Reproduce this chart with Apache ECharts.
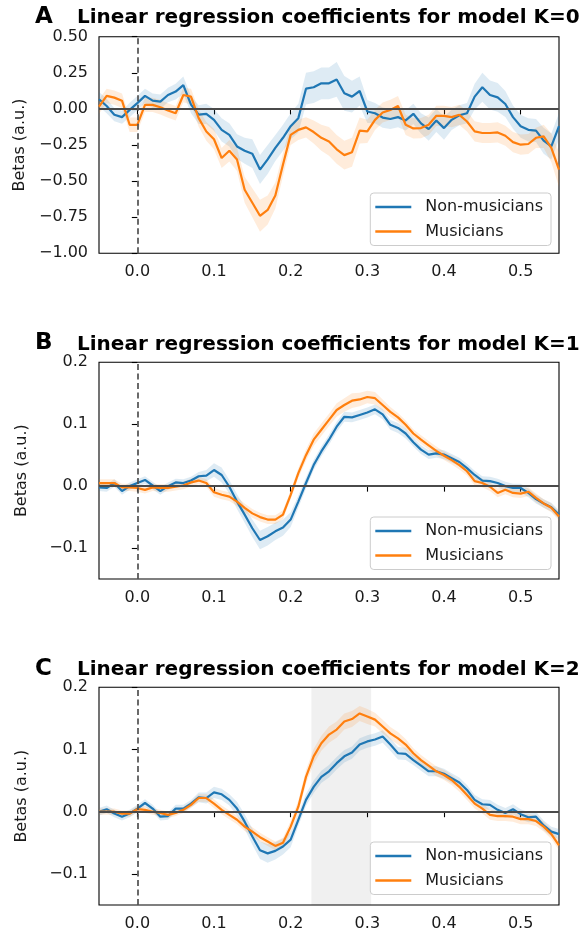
<!DOCTYPE html>
<html><head><meta charset="utf-8">
<script src="https://cdn.jsdelivr.net/npm/echarts@6/dist/echarts.min.js"></script>
<style>html,body{margin:0;padding:0;background:#fff}#c{width:584px;height:934px}</style>
</head><body><div id="c"></div>
<script>
// ---------- data ----------
const times = [-0.05,-0.04,-0.03,-0.02,-0.01,0,0.01,0.02,0.03,0.04,0.05,0.06,0.07,0.08,0.09,0.1,0.11,0.12,0.13,0.14,0.15,0.16,0.17,0.18,0.19,0.2,0.21,0.22,0.23,0.24,0.25,0.26,0.27,0.28,0.29,0.3,0.31,0.32,0.33,0.34,0.35,0.36,0.37,0.38,0.39,0.4,0.41,0.42,0.43,0.44,0.45,0.46,0.47,0.48,0.49,0.5,0.51,0.52,0.53,0.54,0.55];

const nonMusK0 = [0.067,0.02,-0.04,-0.057,-0.007,0.04,0.09,0.057,0.05,0.096,0.12,0.165,0.03,-0.04,-0.035,-0.076,-0.145,-0.18,-0.26,-0.29,-0.31,-0.42,-0.35,-0.27,-0.2,-0.12,-0.064,0.14,0.15,0.177,0.177,0.204,0.108,0.085,0.124,-0.018,-0.03,-0.06,-0.07,-0.057,-0.08,-0.034,-0.1,-0.14,-0.08,-0.133,-0.076,-0.044,-0.03,0.085,0.15,0.096,0.08,0.034,-0.057,-0.12,-0.145,-0.15,-0.22,-0.26,-0.12];
const musK0 = [0.016,0.09,0.078,0.057,-0.11,-0.11,0.028,0.028,0.011,-0.011,-0.03,0.096,0.085,-0.064,-0.156,-0.21,-0.34,-0.29,-0.35,-0.56,-0.65,-0.74,-0.7,-0.6,-0.385,-0.18,-0.145,-0.128,-0.16,-0.2,-0.225,-0.28,-0.32,-0.3,-0.15,-0.156,-0.076,-0.025,-0.007,0.02,-0.11,-0.135,-0.133,-0.11,-0.048,-0.048,-0.057,-0.041,-0.087,-0.156,-0.167,-0.167,-0.163,-0.186,-0.23,-0.248,-0.243,-0.2,-0.19,-0.27,-0.42];
const nonMusK0Sem = [0.05,0.05,0.045,0.045,0.05,0.05,0.05,0.05,0.05,0.05,0.055,0.06,0.06,0.065,0.07,0.075,0.08,0.08,0.085,0.09,0.1,0.1,0.1,0.09,0.09,0.09,0.1,0.11,0.11,0.11,0.11,0.12,0.12,0.11,0.1,0.08,0.07,0.07,0.07,0.07,0.07,0.07,0.07,0.08,0.08,0.08,0.07,0.07,0.07,0.09,0.1,0.1,0.1,0.09,0.08,0.08,0.08,0.08,0.09,0.09,0.09];
const musK0Sem = [0.05,0.05,0.05,0.05,0.05,0.05,0.05,0.05,0.05,0.05,0.05,0.05,0.055,0.06,0.065,0.07,0.07,0.075,0.08,0.09,0.1,0.11,0.1,0.09,0.08,0.07,0.07,0.07,0.08,0.09,0.1,0.1,0.1,0.1,0.09,0.08,0.07,0.07,0.07,0.07,0.07,0.07,0.07,0.07,0.07,0.07,0.07,0.07,0.07,0.07,0.07,0.07,0.07,0.07,0.07,0.07,0.07,0.07,0.08,0.1,0.12];

const nonMusK1 = [-0.002,-0.003,0.005,-0.008,0,0.005,0.01,0.001,-0.008,0,0.006,0.005,0.009,0.016,0.017,0.026,0.018,-0.001,-0.025,-0.046,-0.068,-0.087,-0.081,-0.073,-0.067,-0.054,-0.025,0.005,0.034,0.056,0.075,0.096,0.112,0.111,0.115,0.119,0.124,0.116,0.099,0.094,0.085,0.071,0.059,0.051,0.053,0.051,0.045,0.039,0.029,0.018,0.009,0.008,0.005,0,-0.003,-0.003,-0.011,-0.021,-0.028,-0.034,-0.046];
const musK1 = [0.005,0.005,0.005,-0.002,-0.002,-0.003,-0.006,-0.002,-0.003,-0.003,-0.001,0.001,0.006,0.009,0.005,-0.01,-0.014,-0.017,-0.025,-0.035,-0.044,-0.05,-0.054,-0.054,-0.046,-0.014,0.021,0.05,0.075,0.091,0.107,0.123,0.131,0.138,0.14,0.144,0.142,0.131,0.12,0.111,0.099,0.085,0.075,0.066,0.057,0.049,0.042,0.034,0.024,0.008,0.005,-0.001,-0.011,-0.006,-0.011,-0.012,-0.009,-0.019,-0.028,-0.035,-0.049];
const nonMusK1Sem = [0.006,0.006,0.006,0.006,0.006,0.006,0.006,0.006,0.006,0.006,0.006,0.006,0.006,0.007,0.009,0.011,0.012,0.011,0.012,0.013,0.014,0.015,0.015,0.014,0.013,0.012,0.01,0.009,0.008,0.008,0.008,0.008,0.008,0.008,0.008,0.008,0.008,0.008,0.008,0.008,0.008,0.007,0.007,0.007,0.007,0.007,0.007,0.007,0.007,0.007,0.007,0.007,0.007,0.007,0.007,0.007,0.007,0.007,0.007,0.007,0.007];
const musK1Sem = [0.006,0.006,0.006,0.006,0.006,0.006,0.006,0.006,0.006,0.006,0.006,0.006,0.006,0.006,0.006,0.007,0.007,0.007,0.007,0.007,0.007,0.007,0.007,0.007,0.007,0.007,0.008,0.009,0.01,0.01,0.01,0.011,0.011,0.012,0.011,0.01,0.01,0.009,0.008,0.007,0.007,0.007,0.007,0.007,0.007,0.007,0.007,0.007,0.007,0.007,0.007,0.007,0.007,0.007,0.007,0.007,0.007,0.007,0.007,0.007,0.007];

const nonMusK2 = [0,0.004,-0.003,-0.008,-0.003,0.005,0.014,0.005,-0.008,-0.007,0.005,0.005,0.013,0.023,0.022,0.031,0.028,0.019,0.005,-0.016,-0.04,-0.062,-0.067,-0.063,-0.056,-0.045,-0.013,0.019,0.04,0.056,0.065,0.078,0.089,0.095,0.108,0.113,0.116,0.121,0.108,0.094,0.093,0.083,0.074,0.065,0.065,0.061,0.054,0.047,0.035,0.019,0.012,0.011,0.003,-0.002,0.004,-0.004,-0.009,-0.008,-0.022,-0.032,-0.036];
const musK2 = [0,0,0,-0.003,-0.003,0.004,0.003,0,-0.002,-0.005,-0.002,0.003,0.011,0.022,0.022,0.013,0.003,-0.005,-0.013,-0.024,-0.032,-0.041,-0.048,-0.055,-0.05,-0.024,0.008,0.056,0.089,0.11,0.124,0.132,0.145,0.149,0.158,0.153,0.148,0.137,0.126,0.118,0.108,0.094,0.083,0.074,0.065,0.059,0.051,0.04,0.027,0.013,0.005,-0.005,-0.007,-0.007,-0.008,-0.012,-0.012,-0.015,-0.024,-0.036,-0.054];
const nonMusK2Sem = [0.006,0.006,0.006,0.006,0.006,0.006,0.006,0.006,0.006,0.006,0.006,0.006,0.006,0.008,0.009,0.009,0.009,0.009,0.011,0.012,0.013,0.014,0.015,0.014,0.013,0.012,0.01,0.01,0.01,0.01,0.01,0.01,0.01,0.01,0.01,0.01,0.01,0.01,0.01,0.01,0.01,0.008,0.008,0.008,0.008,0.008,0.008,0.008,0.008,0.008,0.008,0.008,0.008,0.008,0.008,0.008,0.008,0.008,0.008,0.008,0.008];
const musK2Sem = [0.005,0.005,0.005,0.005,0.005,0.005,0.005,0.005,0.005,0.005,0.005,0.005,0.005,0.006,0.006,0.007,0.007,0.007,0.007,0.007,0.007,0.007,0.007,0.007,0.008,0.009,0.01,0.011,0.012,0.012,0.013,0.013,0.013,0.013,0.012,0.012,0.011,0.011,0.01,0.01,0.009,0.008,0.008,0.008,0.008,0.008,0.008,0.008,0.008,0.008,0.008,0.008,0.008,0.008,0.008,0.008,0.008,0.008,0.008,0.008,0.008];

const groupNames = ['Non-musicians', 'Musicians'];
const panelLetters = ['A', 'B', 'C'];
const panelTitles = ['Linear regression coefficients for model K=0', 'Linear regression coefficients for model K=1', 'Linear regression coefficients for model K=2'];
const xTicks = [0, 0.1, 0.2, 0.3, 0.4, 0.5];
const yTicksK0 = [-1, -0.75, -0.5, -0.25, 0, 0.25, 0.5];
const yTicksK12 = [-0.1, 0, 0.1, 0.2];
const sigSpanK2 = [0.227, 0.305];

// ---------- layout / style ----------
const FONT = 'DejaVu Sans';
const BLUE = '#1f77b4', ORANGE = '#ff7f0e';
const BLUE_BAND = 'rgba(31,119,180,0.15)', ORANGE_BAND = 'rgba(255,127,14,0.15)';
const panels = [
  { nm: nonMusK0, mu: musK0, nmSem: nonMusK0Sem, muSem: musK0Sem, yMin: -1, yMax: 0.5, yTicks: yTicksK0, dec: 2,
    top: 36.7, height: 216.6, letterTop: 6, titleTop: 8, legendTop: 193 },
  { nm: nonMusK1, mu: musK1, nmSem: nonMusK1Sem, muSem: musK1Sem, yMin: -0.15, yMax: 0.2, yTicks: yTicksK12, dec: 1,
    top: 362.3, height: 216.7, letterTop: 332, titleTop: 334.5, legendTop: 517 },
  { nm: nonMusK2, mu: musK2, nmSem: nonMusK2Sem, muSem: musK2Sem, yMin: -0.15, yMax: 0.2, yTicks: yTicksK12, dec: 1,
    top: 687.3, height: 217.7, letterTop: 658, titleTop: 660, legendTop: 842, span: sigSpanK2 }
];

const fmt = (v, d) => (v < -1e-9 ? '\u2212' : '') + Math.abs(v).toFixed(d);
const tickStyle = { color: '#000', width: 1.1 };
const labelStyle = { fontSize: 16, fontFamily: FONT, color: '#1a1a1a' };

function bandSeries(gi, mean, sem, color, z) {
  return {
    type: 'custom', xAxisIndex: gi, yAxisIndex: gi, z: z, silent: true, clip: true,
    data: times.map((t, k) => [t, mean[k] - sem[k], mean[k] + sem[k]]),
    encode: { x: 0, y: [1, 2] },
    renderItem: function (params, api) {
      if (params.dataIndex !== 0) return null;
      const upper = times.map((t, k) => api.coord([t, mean[k] + sem[k]]));
      const lower = times.map((t, k) => api.coord([t, mean[k] - sem[k]])).reverse();
      return { type: 'polygon', shape: { points: upper.concat(lower) }, style: { fill: color } };
    }
  };
}

const option = { animation: false, backgroundColor: '#fff', title: [], grid: [], xAxis: [], yAxis: [], legend: [], series: [] };

panels.forEach((p, gi) => {
  option.title.push({ text: panelLetters[gi], left: 35, top: p.letterTop, padding: 0,
    textStyle: { fontSize: 23, fontWeight: 'bold', fontFamily: FONT, color: '#000' } });
  option.title.push({ text: panelTitles[gi], left: 77, top: p.titleTop, padding: 0,
    textStyle: { fontSize: 20, fontWeight: 'bold', fontFamily: FONT, color: '#000' } });
  option.grid.push({ left: 99, right: 25, top: p.top, height: p.height, show: true,
    borderColor: '#000', borderWidth: 1.1, backgroundColor: 'transparent' });
  option.xAxis.push({ type: 'value', gridIndex: gi, min: -0.05, max: 0.55,
    axisLine: { show: false }, splitLine: { show: false },
    axisTick: { show: true, length: 5.5, lineStyle: tickStyle, customValues: xTicks },
    axisLabel: Object.assign({ customValues: xTicks, margin: 11, formatter: v => fmt(v, 1) }, labelStyle) });
  option.yAxis.push({ type: 'value', gridIndex: gi, min: p.yMin, max: p.yMax,
    name: 'Betas (a.u.)', nameLocation: 'middle', nameGap: 69, nameTextStyle: labelStyle,
    axisLine: { show: false }, splitLine: { show: false },
    axisTick: { show: true, length: 5.5, lineStyle: tickStyle, customValues: p.yTicks },
    axisLabel: Object.assign({ customValues: p.yTicks, margin: 11, formatter: v => fmt(v, p.dec) }, labelStyle) });
  option.legend.push({ data: groupNames, orient: 'vertical', right: 33, top: p.legendTop,
    icon: 'rect', itemWidth: 36, itemHeight: 2.4, itemGap: 6.5, padding: [5, 8, 5, 5],
    backgroundColor: 'rgba(255,255,255,0.85)', borderColor: '#cccccc', borderWidth: 1, borderRadius: 3.5,
    selectedMode: false,
    textStyle: { fontSize: 16, fontFamily: FONT, color: '#1a1a1a', lineHeight: 18, padding: [0, 0, 0, 9] } });

  // significance shading (panel C)
  const bg = { type: 'line', xAxisIndex: gi, yAxisIndex: gi, data: [], z: 0, silent: true };
  if (p.span) {
    bg.markArea = { silent: true, itemStyle: { color: 'rgba(0,0,0,0.06)' },
      data: [[{ xAxis: p.span[0] }, { xAxis: p.span[1] }]] };
  }
  option.series.push(bg);
  option.series.push(bandSeries(gi, p.nm, p.nmSem, BLUE_BAND, 1));
  option.series.push(bandSeries(gi, p.mu, p.muSem, ORANGE_BAND, 1));
  option.series.push({ type: 'line', name: groupNames[0], xAxisIndex: gi, yAxisIndex: gi, z: 3,
    data: times.map((t, k) => [t, p.nm[k]]), showSymbol: false, symbol: 'none',
    lineStyle: { color: BLUE, width: 2.2 }, itemStyle: { color: BLUE } });
  option.series.push({ type: 'line', name: groupNames[1], xAxisIndex: gi, yAxisIndex: gi, z: 4,
    data: times.map((t, k) => [t, p.mu[k]]), showSymbol: false, symbol: 'none',
    lineStyle: { color: ORANGE, width: 2.2 }, itemStyle: { color: ORANGE } });
  option.series.push({ type: 'line', xAxisIndex: gi, yAxisIndex: gi, data: [], z: 5, silent: true,
    markLine: { silent: true, symbol: ['none', 'none'], label: { show: false },
      emphasis: { disabled: true },
      data: [
        { yAxis: 0, lineStyle: { color: '#4a4a4a', width: 2, type: 'solid' } },
        { xAxis: 0, lineStyle: { color: '#505050', width: 1.7, type: [6, 3.5] } }
      ] } });
});

const chart = echarts.init(document.getElementById('c'), null, { renderer: 'canvas' });
chart.setOption(option);
</script>
</body></html>
